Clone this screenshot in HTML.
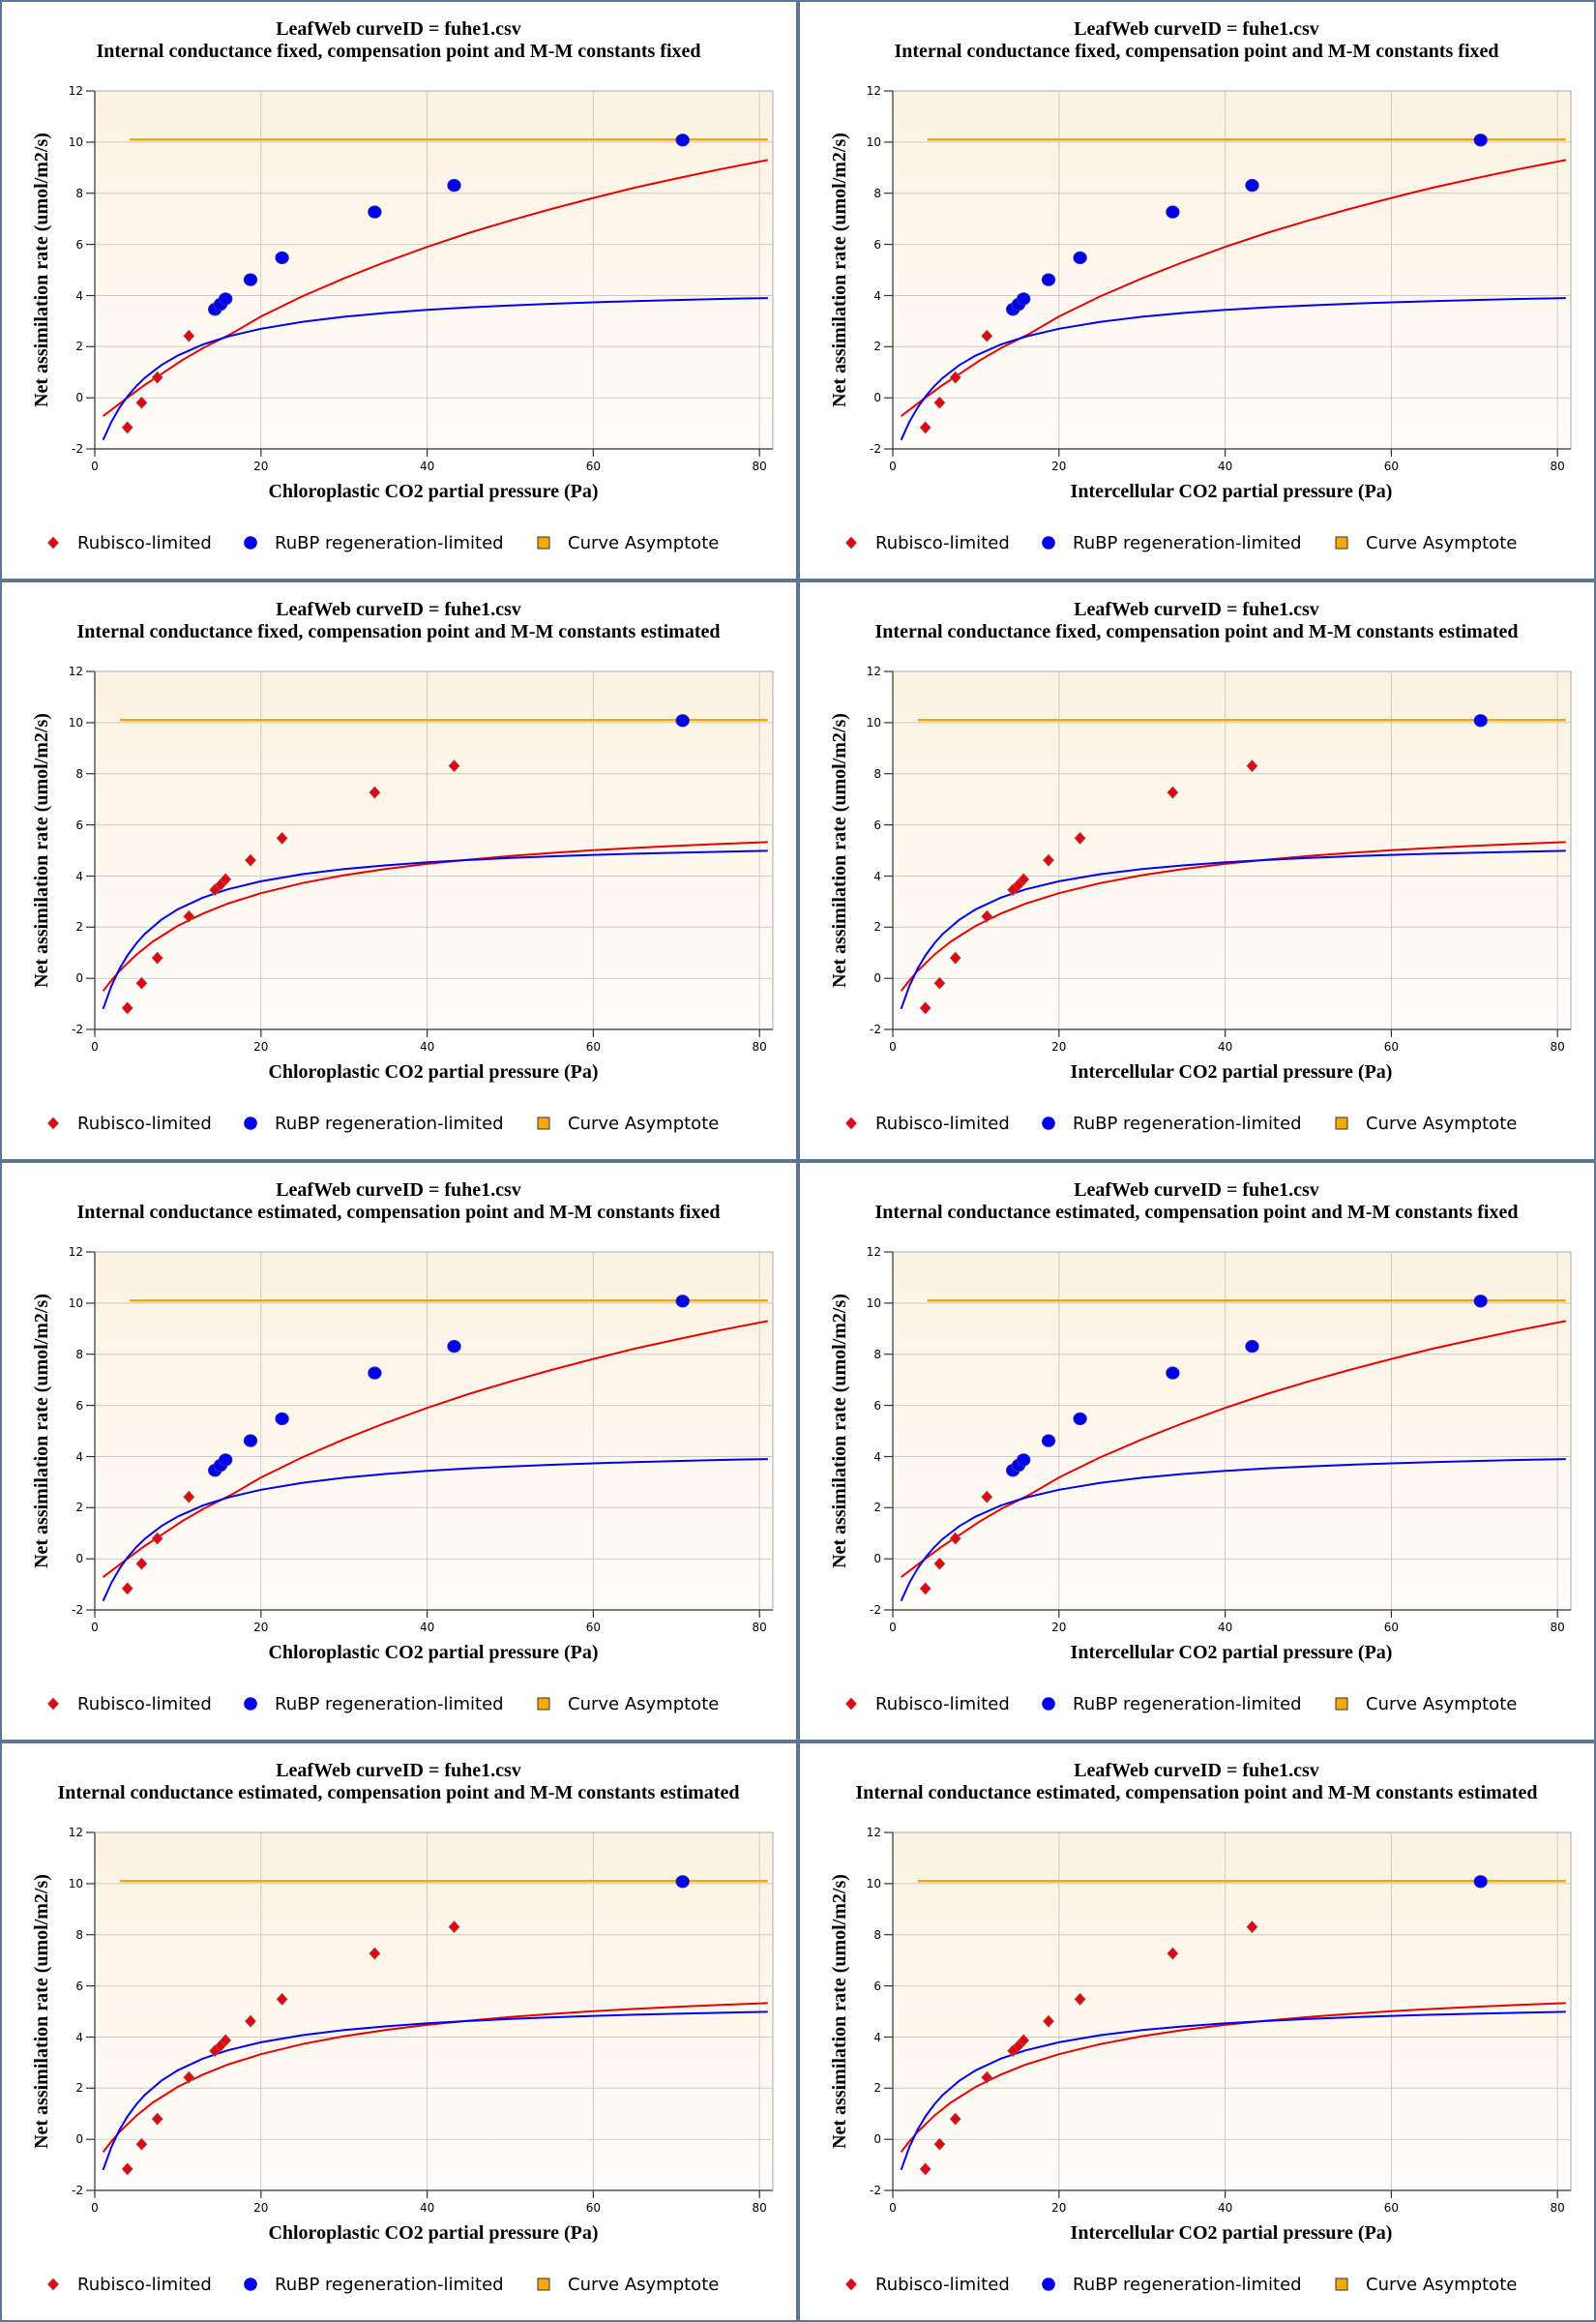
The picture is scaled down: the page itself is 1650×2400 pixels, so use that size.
<!DOCTYPE html>
<html><head><meta charset="utf-8"><style>
html,body{margin:0;padding:0;background:#fff;}
svg{display:block;}
.t{font-family:"Liberation Serif",serif;font-weight:bold;font-size:20px;text-anchor:middle;fill:#000;}
.tk{font-family:"DejaVu Sans","Liberation Sans",sans-serif;font-size:12px;fill:#000;}
.ty{text-anchor:end;}
.tx{text-anchor:middle;}
.lg{font-family:"DejaVu Sans","Liberation Sans",sans-serif;font-size:18px;fill:#000;}
</style></head><body>
<svg width="1650" height="2400" viewBox="0 0 1650 2400" xmlns="http://www.w3.org/2000/svg">
<defs>
<linearGradient id="bg" x1="0" y1="0" x2="0" y2="1">
<stop offset="0" stop-color="#fcf2e1"/><stop offset="1" stop-color="#fffdfa"/>
</linearGradient>
<g id="base">
<rect x="98" y="94" width="701" height="370" fill="url(#bg)" stroke="#aaa" stroke-width="1"/>
<g stroke="#cfcac3" stroke-width="1">
<line x1="269.8" y1="94" x2="269.8" y2="464"/><line x1="441.6" y1="94" x2="441.6" y2="464"/><line x1="613.4" y1="94" x2="613.4" y2="464"/><line x1="785.2" y1="94" x2="785.2" y2="464"/>
<line x1="98" y1="146.9" x2="799" y2="146.9"/><line x1="98" y1="199.7" x2="799" y2="199.7"/><line x1="98" y1="252.6" x2="799" y2="252.6"/><line x1="98" y1="305.5" x2="799" y2="305.5"/><line x1="98" y1="358.3" x2="799" y2="358.3"/><line x1="98" y1="411.2" x2="799" y2="411.2"/>
</g>
<g stroke="#333" stroke-width="1.2">
<line x1="98" y1="94" x2="98" y2="464"/><line x1="98" y1="464" x2="799" y2="464"/>
<line x1="89" y1="94" x2="98" y2="94"/><line x1="89" y1="146.9" x2="98" y2="146.9"/><line x1="89" y1="199.7" x2="98" y2="199.7"/><line x1="89" y1="252.6" x2="98" y2="252.6"/><line x1="89" y1="305.5" x2="98" y2="305.5"/><line x1="89" y1="358.3" x2="98" y2="358.3"/><line x1="89" y1="411.2" x2="98" y2="411.2"/><line x1="89" y1="464" x2="98" y2="464"/>
<line x1="98" y1="464" x2="98" y2="472"/><line x1="269.8" y1="464" x2="269.8" y2="472"/><line x1="441.6" y1="464" x2="441.6" y2="472"/><line x1="613.4" y1="464" x2="613.4" y2="472"/><line x1="785.2" y1="464" x2="785.2" y2="472"/>
</g>
</g>
<g id="fixed">
<use href="#base"/>
<line x1="133.8" y1="144.2" x2="793.8" y2="144.2" stroke="#f5a900" stroke-width="2.5"/>
<polyline fill="none" stroke="#e80000" stroke-width="2" points="106.6,430.1 132.4,410.6 149.5,398 166.7,386.7 188,372.5 209.7,359.9 240,344.5 269.8,327.1 312,306.5 355.7,287.7 398,271 441.6,255.2 484,241 527.5,227.9 570,216 613.4,204.6 656,194 699.3,184.5 745,174.8 793.8,165.4"/>
<polyline fill="none" stroke="#0000ee" stroke-width="2" points="106.6,454.7 115.2,435.9 123.8,421.0 132.4,409.0 141.0,399.0 149.5,390.7 166.7,377.4 183.9,367.4 209.7,356.1 235.4,347.9 269.8,339.8 312.8,332.6 355.7,327.4 398,323.5 441.6,320.3 484,317.8 527.5,315.7 570,314 613.4,312.5 656,311.2 699.3,310.1 745,309 793.8,308.1"/>
<g fill="#e8000b" stroke="#8a6a70" stroke-width="0.8">
<path d="M131.7,435.9 l5.5,6 l-5.5,6 l-5.5,-6 Z"/>
<path d="M146.4,410.2 l5.5,6 l-5.5,6 l-5.5,-6 Z"/>
<path d="M162.7,384.1 l5.5,6 l-5.5,6 l-5.5,-6 Z"/>
<path d="M195.3,341.2 l5.5,6 l-5.5,6 l-5.5,-6 Z"/>
</g>
<g fill="#0000f0" stroke="#3a3a9a" stroke-width="0.8">
<ellipse cx="222.2" cy="319.7" rx="6.8" ry="6.3"/><ellipse cx="228" cy="314.5" rx="6.8" ry="6.3"/><ellipse cx="233.2" cy="308.9" rx="6.8" ry="6.3"/><ellipse cx="259" cy="289.1" rx="6.8" ry="6.3"/><ellipse cx="291.6" cy="266.4" rx="6.8" ry="6.3"/><ellipse cx="387.4" cy="219.1" rx="6.8" ry="6.3"/><ellipse cx="469.5" cy="191.6" rx="6.8" ry="6.3"/><ellipse cx="705.7" cy="144.8" rx="6.8" ry="6.3"/>
</g>
</g>
<g id="est">
<use href="#base"/>
<line x1="123.8" y1="144.2" x2="793.8" y2="144.2" stroke="#f5a900" stroke-width="2.5"/>
<polyline fill="none" stroke="#e80000" stroke-width="2" points="106.6,424.4 115.2,413.3 123.8,403.4 141.0,386.7 158.1,373.1 183.9,356.9 209.7,344.3 235.4,334.0 269.8,323.2 312.8,312.7 355.7,304.6 398,298.3 441.6,292.9 484,288.6 527.5,284.8 570,281.6 613.4,278.8 656,276.4 699.3,274.3 745,272.3 793.8,270.4"/>
<polyline fill="none" stroke="#0000ee" stroke-width="2" points="106.6,442.8 115.2,419.0 123.8,400.9 132.4,386.6 141.0,375.0 149.5,365.5 166.7,350.7 183.9,339.8 209.7,327.8 235.4,319.2 269.8,310.9 312.8,303.5 355.7,298.3 398,294.5 441.6,291.3 484,288.9 527.5,286.8 570,285.1 613.4,283.6 656,282.4 699.3,281.4 745,280.4 793.8,279.4"/>
<g fill="#e8000b" stroke="#8a6a70" stroke-width="0.8">
<path d="M131.7,435.9 l5.5,6 l-5.5,6 l-5.5,-6 Z"/>
<path d="M146.4,410.2 l5.5,6 l-5.5,6 l-5.5,-6 Z"/>
<path d="M162.7,384.1 l5.5,6 l-5.5,6 l-5.5,-6 Z"/>
<path d="M195.3,341.2 l5.5,6 l-5.5,6 l-5.5,-6 Z"/>
<path d="M222.2,313.7 l5.5,6 l-5.5,6 l-5.5,-6 Z"/>
<path d="M228,308.5 l5.5,6 l-5.5,6 l-5.5,-6 Z"/>
<path d="M233.2,302.9 l5.5,6 l-5.5,6 l-5.5,-6 Z"/>
<path d="M259,283.1 l5.5,6 l-5.5,6 l-5.5,-6 Z"/>
<path d="M291.6,260.4 l5.5,6 l-5.5,6 l-5.5,-6 Z"/>
<path d="M387.4,213.1 l5.5,6 l-5.5,6 l-5.5,-6 Z"/>
<path d="M469.5,185.6 l5.5,6 l-5.5,6 l-5.5,-6 Z"/>
</g>
<ellipse cx="705.7" cy="144.8" rx="6.8" ry="6.3" fill="#0000f0" stroke="#3a3a9a" stroke-width="0.8"/>
</g>
<g id="legm">
<path d="M55,555 l5.5,6 l-5.5,6 l-5.5,-6 Z" fill="#e8000b" stroke="#8a6a70" stroke-width="0.8"/>
<ellipse cx="259" cy="561" rx="6.8" ry="6.8" fill="#0000f0"/>
<rect x="556" y="555" width="12" height="12" fill="#f9a800" stroke="#333" stroke-width="1"/>
</g>
</defs>

<!-- Panel 1 -->
<g transform="translate(0,0)">
<use href="#fixed"/><use href="#legm"/>
<text class="t" x="412" y="36">LeafWeb curveID = fuhe1.csv</text>
<text class="t" x="412" y="59">Internal conductance fixed, compensation point and M-M constants fixed</text>
<text class="t" x="448" y="514">Chloroplastic CO2 partial pressure (Pa)</text>
<text class="t" transform="translate(49,279) rotate(-90)">Net assimilation rate (umol/m2/s)</text>
<g class="tk ty"><text x="86" y="98">12</text><text x="86" y="151">10</text><text x="86" y="204">8</text><text x="86" y="257">6</text><text x="86" y="310">4</text><text x="86" y="362">2</text><text x="86" y="415">0</text><text x="86" y="468">-2</text></g>
<g class="tk tx"><text x="98" y="486">0</text><text x="269.8" y="486">20</text><text x="441.6" y="486">40</text><text x="613.4" y="486">60</text><text x="785.2" y="486">80</text></g>
<text class="lg" x="80" y="567">Rubisco-limited</text><text class="lg" x="284" y="567">RuBP regeneration-limited</text><text class="lg" x="587" y="567">Curve Asymptote</text>
</g>
<!-- Panel 2 -->
<g transform="translate(825,0)">
<use href="#fixed"/><use href="#legm"/>
<text class="t" x="412" y="36">LeafWeb curveID = fuhe1.csv</text>
<text class="t" x="412" y="59">Internal conductance fixed, compensation point and M-M constants fixed</text>
<text class="t" x="448" y="514">Intercellular CO2 partial pressure (Pa)</text>
<text class="t" transform="translate(49,279) rotate(-90)">Net assimilation rate (umol/m2/s)</text>
<g class="tk ty"><text x="86" y="98">12</text><text x="86" y="151">10</text><text x="86" y="204">8</text><text x="86" y="257">6</text><text x="86" y="310">4</text><text x="86" y="362">2</text><text x="86" y="415">0</text><text x="86" y="468">-2</text></g>
<g class="tk tx"><text x="98" y="486">0</text><text x="269.8" y="486">20</text><text x="441.6" y="486">40</text><text x="613.4" y="486">60</text><text x="785.2" y="486">80</text></g>
<text class="lg" x="80" y="567">Rubisco-limited</text><text class="lg" x="284" y="567">RuBP regeneration-limited</text><text class="lg" x="587" y="567">Curve Asymptote</text>
</g>
<!-- Panel 3 -->
<g transform="translate(0,600)">
<use href="#est"/><use href="#legm"/>
<text class="t" x="412" y="36">LeafWeb curveID = fuhe1.csv</text>
<text class="t" x="412" y="59">Internal conductance fixed, compensation point and M-M constants estimated</text>
<text class="t" x="448" y="514">Chloroplastic CO2 partial pressure (Pa)</text>
<text class="t" transform="translate(49,279) rotate(-90)">Net assimilation rate (umol/m2/s)</text>
<g class="tk ty"><text x="86" y="98">12</text><text x="86" y="151">10</text><text x="86" y="204">8</text><text x="86" y="257">6</text><text x="86" y="310">4</text><text x="86" y="362">2</text><text x="86" y="415">0</text><text x="86" y="468">-2</text></g>
<g class="tk tx"><text x="98" y="486">0</text><text x="269.8" y="486">20</text><text x="441.6" y="486">40</text><text x="613.4" y="486">60</text><text x="785.2" y="486">80</text></g>
<text class="lg" x="80" y="567">Rubisco-limited</text><text class="lg" x="284" y="567">RuBP regeneration-limited</text><text class="lg" x="587" y="567">Curve Asymptote</text>
</g>
<!-- Panel 4 -->
<g transform="translate(825,600)">
<use href="#est"/><use href="#legm"/>
<text class="t" x="412" y="36">LeafWeb curveID = fuhe1.csv</text>
<text class="t" x="412" y="59">Internal conductance fixed, compensation point and M-M constants estimated</text>
<text class="t" x="448" y="514">Intercellular CO2 partial pressure (Pa)</text>
<text class="t" transform="translate(49,279) rotate(-90)">Net assimilation rate (umol/m2/s)</text>
<g class="tk ty"><text x="86" y="98">12</text><text x="86" y="151">10</text><text x="86" y="204">8</text><text x="86" y="257">6</text><text x="86" y="310">4</text><text x="86" y="362">2</text><text x="86" y="415">0</text><text x="86" y="468">-2</text></g>
<g class="tk tx"><text x="98" y="486">0</text><text x="269.8" y="486">20</text><text x="441.6" y="486">40</text><text x="613.4" y="486">60</text><text x="785.2" y="486">80</text></g>
<text class="lg" x="80" y="567">Rubisco-limited</text><text class="lg" x="284" y="567">RuBP regeneration-limited</text><text class="lg" x="587" y="567">Curve Asymptote</text>
</g>
<!-- Panel 5 -->
<g transform="translate(0,1200)">
<use href="#fixed"/><use href="#legm"/>
<text class="t" x="412" y="36">LeafWeb curveID = fuhe1.csv</text>
<text class="t" x="412" y="59">Internal conductance estimated, compensation point and M-M constants fixed</text>
<text class="t" x="448" y="514">Chloroplastic CO2 partial pressure (Pa)</text>
<text class="t" transform="translate(49,279) rotate(-90)">Net assimilation rate (umol/m2/s)</text>
<g class="tk ty"><text x="86" y="98">12</text><text x="86" y="151">10</text><text x="86" y="204">8</text><text x="86" y="257">6</text><text x="86" y="310">4</text><text x="86" y="362">2</text><text x="86" y="415">0</text><text x="86" y="468">-2</text></g>
<g class="tk tx"><text x="98" y="486">0</text><text x="269.8" y="486">20</text><text x="441.6" y="486">40</text><text x="613.4" y="486">60</text><text x="785.2" y="486">80</text></g>
<text class="lg" x="80" y="567">Rubisco-limited</text><text class="lg" x="284" y="567">RuBP regeneration-limited</text><text class="lg" x="587" y="567">Curve Asymptote</text>
</g>
<!-- Panel 6 -->
<g transform="translate(825,1200)">
<use href="#fixed"/><use href="#legm"/>
<text class="t" x="412" y="36">LeafWeb curveID = fuhe1.csv</text>
<text class="t" x="412" y="59">Internal conductance estimated, compensation point and M-M constants fixed</text>
<text class="t" x="448" y="514">Intercellular CO2 partial pressure (Pa)</text>
<text class="t" transform="translate(49,279) rotate(-90)">Net assimilation rate (umol/m2/s)</text>
<g class="tk ty"><text x="86" y="98">12</text><text x="86" y="151">10</text><text x="86" y="204">8</text><text x="86" y="257">6</text><text x="86" y="310">4</text><text x="86" y="362">2</text><text x="86" y="415">0</text><text x="86" y="468">-2</text></g>
<g class="tk tx"><text x="98" y="486">0</text><text x="269.8" y="486">20</text><text x="441.6" y="486">40</text><text x="613.4" y="486">60</text><text x="785.2" y="486">80</text></g>
<text class="lg" x="80" y="567">Rubisco-limited</text><text class="lg" x="284" y="567">RuBP regeneration-limited</text><text class="lg" x="587" y="567">Curve Asymptote</text>
</g>
<!-- Panel 7 -->
<g transform="translate(0,1800)">
<use href="#est"/><use href="#legm"/>
<text class="t" x="412" y="36">LeafWeb curveID = fuhe1.csv</text>
<text class="t" x="412" y="59">Internal conductance estimated, compensation point and M-M constants estimated</text>
<text class="t" x="448" y="514">Chloroplastic CO2 partial pressure (Pa)</text>
<text class="t" transform="translate(49,279) rotate(-90)">Net assimilation rate (umol/m2/s)</text>
<g class="tk ty"><text x="86" y="98">12</text><text x="86" y="151">10</text><text x="86" y="204">8</text><text x="86" y="257">6</text><text x="86" y="310">4</text><text x="86" y="362">2</text><text x="86" y="415">0</text><text x="86" y="468">-2</text></g>
<g class="tk tx"><text x="98" y="486">0</text><text x="269.8" y="486">20</text><text x="441.6" y="486">40</text><text x="613.4" y="486">60</text><text x="785.2" y="486">80</text></g>
<text class="lg" x="80" y="567">Rubisco-limited</text><text class="lg" x="284" y="567">RuBP regeneration-limited</text><text class="lg" x="587" y="567">Curve Asymptote</text>
</g>
<!-- Panel 8 -->
<g transform="translate(825,1800)">
<use href="#est"/><use href="#legm"/>
<text class="t" x="412" y="36">LeafWeb curveID = fuhe1.csv</text>
<text class="t" x="412" y="59">Internal conductance estimated, compensation point and M-M constants estimated</text>
<text class="t" x="448" y="514">Intercellular CO2 partial pressure (Pa)</text>
<text class="t" transform="translate(49,279) rotate(-90)">Net assimilation rate (umol/m2/s)</text>
<g class="tk ty"><text x="86" y="98">12</text><text x="86" y="151">10</text><text x="86" y="204">8</text><text x="86" y="257">6</text><text x="86" y="310">4</text><text x="86" y="362">2</text><text x="86" y="415">0</text><text x="86" y="468">-2</text></g>
<g class="tk tx"><text x="98" y="486">0</text><text x="269.8" y="486">20</text><text x="441.6" y="486">40</text><text x="613.4" y="486">60</text><text x="785.2" y="486">80</text></g>
<text class="lg" x="80" y="567">Rubisco-limited</text><text class="lg" x="284" y="567">RuBP regeneration-limited</text><text class="lg" x="587" y="567">Curve Asymptote</text>
</g>

<!-- borders -->
<g fill="#5f7593">
<rect x="0" y="0" width="1650" height="2"/>
<rect x="0" y="2398" width="1650" height="2"/>
<rect x="0" y="0" width="2" height="2400"/>
<rect x="1648" y="0" width="2" height="2400"/>
<rect x="823" y="0" width="4" height="2400"/>
<rect x="0" y="598" width="1650" height="4"/>
<rect x="0" y="1198" width="1650" height="4"/>
<rect x="0" y="1798" width="1650" height="4"/>
</g>
</svg>
</body></html>
